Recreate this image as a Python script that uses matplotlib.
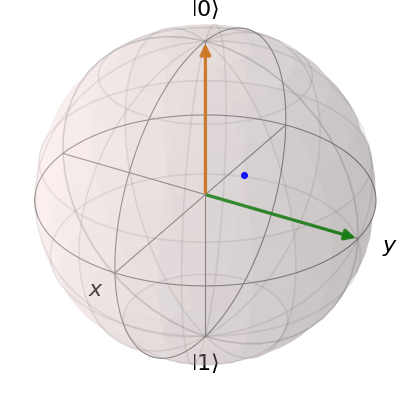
import numpy as np
import matplotlib
matplotlib.use('Agg')
import matplotlib.pyplot as plt
from matplotlib.patches import FancyArrowPatch
from mpl_toolkits.mplot3d import proj3d

# bloch vectors and the single point
vec_x = [0.0, 0.0]
vec_y = [1.0, 0.0]
vec_z = [0.0, 1.0]
vec_colors = ['g', '#CC6600']
point = [0.0, 0.26, 0.205]

sphere_color = '#FFDDDD'
frame_color = 'gray'


class Arrow3D(FancyArrowPatch):
    def __init__(self, xs, ys, zs, *args, **kwargs):
        FancyArrowPatch.__init__(self, (0, 0), (0, 0), *args, **kwargs)
        self._verts3d = xs, ys, zs

    def do_3d_projection(self, renderer=None):
        xs3d, ys3d, zs3d = self._verts3d
        xs, ys, zs = proj3d.proj_transform(xs3d, ys3d, zs3d, self.axes.M)
        self.set_positions((xs[0], ys[0]), (xs[1], ys[1]))
        # smallest depth goes last, arrows sit over the sphere
        return -1e6


fig = plt.figure(figsize=(5, 5), dpi=80)
ax = fig.add_axes([0, 0, 1, 1], projection='3d', azim=-60, elev=30)
ax.set_box_aspect((1, 1, 1), zoom=1.86)


def sphere_half(u, v):
    x = np.outer(np.cos(u), np.sin(v))
    y = np.outer(np.sin(u), np.sin(v))
    z = np.outer(np.ones(u.size), np.cos(v))
    ax.plot_surface(x, y, z, rstride=2, cstride=2, color=sphere_color, linewidth=0, alpha=0.2)
    ax.plot_wireframe(x, y, z, rstride=5, cstride=5, color=frame_color, alpha=0.2)


def circles(u):
    ax.plot(np.cos(u), np.sin(u), zs=0, zdir='z', lw=1, color=frame_color)
    ax.plot(np.cos(u), np.sin(u), zs=0, zdir='x', lw=1, color=frame_color)


# back half first, then front
u = np.linspace(0, np.pi, 25)
v = np.linspace(0, np.pi, 25)
sphere_half(u, v)
circles(np.linspace(0, np.pi, 100))

u = np.linspace(-np.pi, 0, 25)
sphere_half(u, v)
circles(np.linspace(-np.pi, 0, 100))

# axes through the centre
span = np.linspace(-1.0, 1.0, 2)
ax.plot(span, 0 * span, zs=0, zdir='z', lw=1, color=frame_color)
ax.plot(0 * span, span, zs=0, zdir='z', lw=1, color=frame_color)
ax.plot(0 * span, span, zs=0, zdir='y', lw=1, color=frame_color)

# point (x, y, z) -> plot coords (y, -x, z)
sc = ax.scatter(point[1], -point[0], point[2], s=28, alpha=0.9, edgecolor=None, zdir='z',
                color='b', marker='o', depthshade=False)
sc_project = sc.do_3d_projection
sc.do_3d_projection = lambda: (sc_project(), -1e6)[1]

for k, (vx, vy, vz) in enumerate([(vec_x[0], vec_y[0], vec_z[0]), (vec_x[1], vec_y[1], vec_z[1])]):
    a = Arrow3D([0, vy], [0, -vx], [0, vz], mutation_scale=20, lw=3, arrowstyle='-|>',
                color=vec_colors[k], alpha=0.9)
    ax.add_artist(a)

ax.text(0, -1.2, 0, '$x$', fontsize=20, color='black', ha='center', va='center')
ax.text(1.2, 0, 0, '$y$', fontsize=20, color='black', ha='center', va='center')
ax.text(0, 0, 1.2, r'$\left|0\right>$', fontsize=20, color='black', ha='center', va='center')
ax.text(0, 0, -1.2, r'$\left|1\right>$', fontsize=20, color='black', ha='center', va='center')

ax.set_xlim3d(-1.3, 1.3)
ax.set_ylim3d(-1.3, 1.3)
ax.set_zlim3d(-1.3, 1.3)
ax.set_axis_off()

fig.savefig('out.png', dpi=80)
